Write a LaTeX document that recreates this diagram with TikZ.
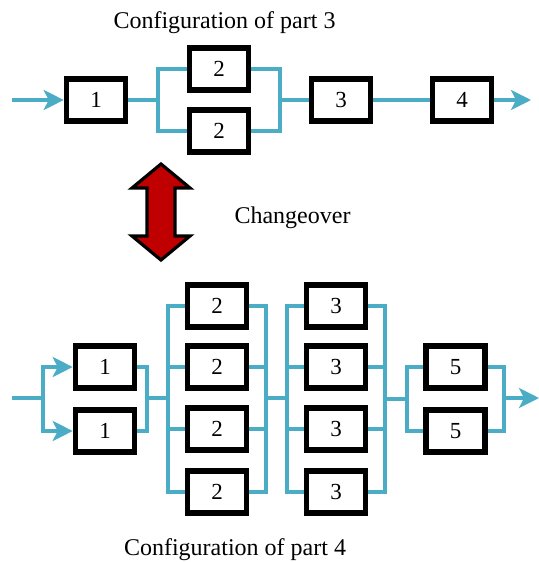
\documentclass[tikz,border=0pt]{standalone}
\usepackage{fontspec}
\setmainfont{Liberation Serif}
\usepackage{xcolor}
\usetikzlibrary{arrows.meta,calc}
\definecolor{linecol}{HTML}{4BACC6}
\definecolor{arrowred}{HTML}{C00000}

\begin{document}
\begin{tikzpicture}[x=0.5pt,y=-0.5pt,
	blk/.style={draw=black,line width=2.8pt,fill=white,minimum width=29.5pt,minimum height=21pt,inner sep=0pt,font=\fontsize{11.5}{13}\selectfont},
	wire/.style={draw=linecol,line width=1.6pt},
	arr/.style={wire,-{Stealth[length=10pt,width=10pt,inset=2.5pt]}},
	title/.style={anchor=base,inner sep=0pt,font=\fontsize{12}{14}\selectfont}]
		\useasboundingbox (0,0) rectangle (539,562);
		% part 3
		\node[title] (t3) at (224.5,28) {Configuration of part 3};
		\node[blk] (a1) at (96,100) {1};
		\node[blk] (a2u) at (219,69) {2};
		\node[blk] (a2d) at (219,131) {2};
		\node[blk] (a3) at (341,100) {3};
		\node[blk] (a4) at (462,100) {4};
		\coordinate (ain) at (12,100);
		\coordinate (aj1) at (158,100);
		\coordinate (aj2) at (280,100);
		\coordinate (aout) at (531,100);
		\draw[arr] (ain) -- (a1.west);
		\draw[wire] (a1.east) -- (aj1);
		\draw[wire] (a2u.west) -| (aj1) |- (a2d.west);
		\draw[wire] (a2u.east) -| (aj2) |- (a2d.east);
		\draw[wire] (aj2) -- (a3.west);
		\draw[wire] (a3.east) -- (a4.west);
		\draw[arr] (a4.east) -- (aout);
		% changeover
		\draw[fill=arrowred,line width=1.6pt,line join=miter] (161,164) -- (190,188) -- (175,188) -- (175,236)
			-- (190,236) -- (161,260) -- (132,236) -- (147,236) -- (147,188) -- (132,188) -- cycle;
		\node[title] (chg) at (292.5,223) {Changeover};
		% part 4
		\node[title] (t4) at (235,555) {Configuration of part 4};
		\node[blk] (b1u) at (105,367) {1};
		\node[blk] (b1d) at (105,431) {1};
		\foreach \i/\y in {1/306,2/367,3/429,4/492}{
			\node[blk] (b2\i) at (217,\y) {2};
			\node[blk] (b3\i) at (336,\y) {3};
		}
		\node[blk] (b5u) at (455.5,367) {5};
		\node[blk] (b5d) at (455.5,431) {5};
		\coordinate (bin) at (12,398);
		\coordinate (bj0) at (43,398);
		\coordinate (bj1) at (147,398);
		\coordinate (bj2) at (168,398);
		\coordinate (bj3) at (266,398);
		\coordinate (bj4) at (287,398);
		\coordinate (bj5) at (385,399);
		\coordinate (bj6) at (407,399);
		\coordinate (bj7) at (504,398);
		\coordinate (bout) at (539,398);
		\draw[wire] (bin) -- (bj0);
		\draw[arr] (bj0) |- (b1u.west);
		\draw[arr] (bj0) |- (b1d.west);
		\draw[wire] (b1u.east) -| (bj1) |- (b1d.east);
		\draw[wire] (bj1) -- (bj2);
		\draw[wire] (b21.west) -| (bj2) |- (b24.west);
		\draw[wire] (b21.east) -| (bj3) |- (b24.east);
		\draw[wire] (b31.west) -| (bj4) |- (b34.west);
		\draw[wire] (b31.east) -| (bj5) |- (b34.east);
		\foreach \i in {2,3}{
			\draw[wire] (b2\i.west) -- (bj2 |- b2\i.west);
			\draw[wire] (b2\i.east) -- (bj3 |- b2\i.east);
			\draw[wire] (b3\i.west) -- (bj4 |- b3\i.west);
			\draw[wire] (b3\i.east) -- (bj5 |- b3\i.east);
		}
		\draw[wire] (bj3) -- (bj4);
		\draw[wire] (bj5) -- (bj6);
		\draw[wire] (b5u.west) -| (bj6) |- (b5d.west);
		\draw[wire] (b5u.east) -| (bj7) |- (b5d.east);
		\draw[arr] (bj7) -- (bout);
	\end{tikzpicture}
\end{document}
